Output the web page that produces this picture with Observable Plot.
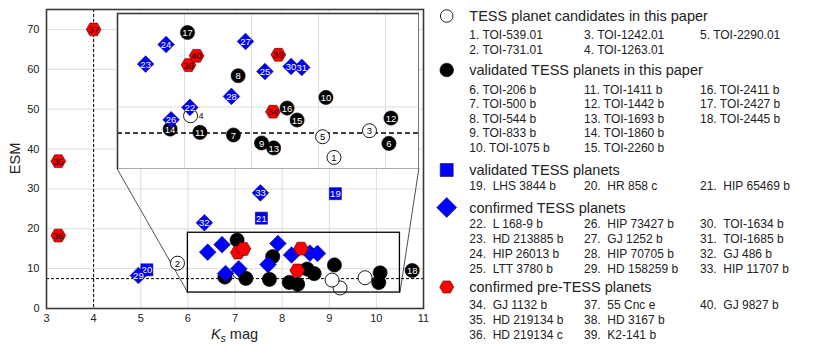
<!DOCTYPE html>
<html><head><meta charset="utf-8">
<script src="https://cdn.jsdelivr.net/npm/d3@7"></script>
<script src="https://cdn.jsdelivr.net/npm/@observablehq/plot@0.6"></script>
<style>
body{margin:0;background:#fff;}
#wrap{position:relative;width:830px;height:356px;overflow:hidden;background:#fff;}
#wrap svg{position:absolute;}
</style></head><body><div id="wrap"></div>
<script>
// ---------------- data ----------------
const categories = [
  "TESS planet candidates in this paper",
  "validated TESS planets in this paper",
  "validated TESS planets",
  "confirmed TESS planets",
  "confirmed pre-TESS planets"
];
const categoryFirstId = [1, 6, 19, 22, 34];
const planetNames = [
  "TOI-539.01","TOI-731.01","TOI-1242.01","TOI-1263.01","TOI-2290.01",
  "TOI-206 b","TOI-500 b","TOI-544 b","TOI-833 b","TOI-1075 b","TOI-1411 b","TOI-1442 b",
  "TOI-1693 b","TOI-1860 b","TOI-2260 b","TOI-2411 b","TOI-2427 b","TOI-2445 b",
  "LHS 3844 b","HR 858 c","HIP 65469 b",
  "L 168-9 b","HD 213885 b","HIP 26013 b","LTT 3780 b","HIP 73427 b","GJ 1252 b",
  "HIP 70705 b","HD 158259 b","TOI-1634 b","TOI-1685 b","GJ 486 b","HIP 11707 b",
  "GJ 1132 b","HD 219134 b","HD 219134 c","55 Cnc e","HD 3167 b","K2-141 b","GJ 9827 b"
];
const ksMag = [
  9.23, 5.78, 9.76, 7.09, 9.06,
  10.05, 7.73, 7.80, 8.15, 9.11, 7.23, 10.08, 8.33, 6.785, 8.68, 8.53, 7.045, 10.76,
  9.13, 5.13, 7.56,
  7.08, 6.42, 6.725, 8.20, 6.80, 7.91, 7.70, 4.95, 8.59, 8.75, 6.35, 7.54,
  8.32, 3.25, 3.25, 4.00, 7.06, 8.40, 7.18
];
const esmValues = [
  5.15, 11.37, 7.72, 9.16, 7.14,
  6.50, 7.31, 13.01, 6.54, 10.92, 7.56, 8.94, 6.06, 7.88, 8.75, 9.90, 17.17, 9.53,
  28.8, 9.7, 22.66,
  9.96, 14.13, 16.02, 13.42, 8.78, 16.31, 11.02, 8.28, 13.90, 13.81, 21.5, 29.0,
  9.55, 36.95, 18.3, 70.0, 14.04, 15.03, 14.93
];
const xTicks = [3, 4, 5, 6, 7, 8, 9, 10, 11];
const yTicks = [0, 10, 20, 30, 40, 50, 60, 70];
const ksLimit = 4;       // vertical dashed line
const esmLimit = 7.5;    // horizontal dashed line
const zoomX = [6, 10.5];
const zoomY = [4, 19];
const insetX = [4.5, 10.9];
const insetY = [35, 74.1];

// ---------------- table ----------------
const planets = planetNames.map((name, i) => {
  const id = i + 1;
  let g = 0;
  categoryFirstId.forEach((f, k) => { if (id >= f) g = k; });
  return {id, name, ks: ksMag[i], esm: esmValues[i], group: g};
});
const inZoom = d => d.ks >= zoomX[0] && d.ks <= zoomX[1] && d.esm >= zoomY[0] && d.esm <= zoomY[1];

// ---------------- styles ----------------
const FONT = '"Liberation Sans", Arial, Helvetica, sans-serif';
const hexFlat = {
  draw(ctx, size) {
    const r = Math.sqrt(size / Math.PI), h = r * Math.sqrt(3) / 2;
    ctx.moveTo(r, 0); ctx.lineTo(r / 2, h); ctx.lineTo(-r / 2, h);
    ctx.lineTo(-r, 0); ctx.lineTo(-r / 2, -h); ctx.lineTo(r / 2, -h); ctx.closePath();
  }
};
const groupStyle = [
  {symbol: "circle", r: 7, fill: "white", stroke: "black", strokeWidth: 0.9, text: "black"},
  {symbol: "circle", r: 7.1, fill: "black", stroke: "black", strokeWidth: 0.6, text: "white"},
  {symbol: "square", r: 6.8, fill: "#0000ff", stroke: "#10104a", strokeWidth: 0.6, text: "white"},
  {symbol: "diamond2", r: 7.5, fill: "#0000ff", stroke: "#10104a", strokeWidth: 0.6, text: "white"},
  {symbol: hexFlat, r: 7.4, fill: "#ff0000", stroke: "#4a0000", strokeWidth: 0.6, text: "black"}
];

// Points rendered group by group with labels after each group
function groupMarks(data, labelFilter) {
  const marks = [];
  groupStyle.forEach((s, g) => {
    const sub = data.filter(d => d.group === g);
    marks.push(Plot.dot(sub, {x: "ks", y: "esm", symbol: s.symbol,
      r: s.r, fill: s.fill, stroke: s.stroke, strokeWidth: s.strokeWidth}));
    const lab = sub.filter(labelFilter);
    const inside = lab.filter(d => d.id !== 4);
    const outside = lab.filter(d => d.id === 4);
    marks.push(Plot.text(inside, {x: "ks", y: "esm", text: d => String(d.id), fill: s.text,
      fontSize: 9.5, dy: 0.5}));
    if (outside.length) marks.push(Plot.text(outside, {x: "ks", y: "esm", text: d => String(d.id),
      fill: "black", fontSize: 8.5, dx: 10.5, dy: 1}));
  });
  return marks;
}

// ---------------- main plot ----------------
const main = Plot.plot({
  width: 430, height: 356,
  marginLeft: 46, marginRight: 7, marginTop: 9, marginBottom: 48,
  x: {domain: [3, 11]},
  y: {domain: [0, 75]},
  style: {fontFamily: FONT, fontSize: "11px", color: "#222", background: "white"},
  marks: [
    Plot.gridX(xTicks, {stroke: "#dcdcdc", strokeOpacity: 1}),
    Plot.gridY(yTicks, {stroke: "#dcdcdc", strokeOpacity: 1}),
    Plot.ruleX([ksLimit], {stroke: "black", strokeWidth: 1, strokeDasharray: "3,2"}),
    Plot.ruleY([esmLimit], {stroke: "black", strokeWidth: 1, strokeDasharray: "3,2"}),
    Plot.link([
      {x1: insetX[0], y1: insetY[0], x2: zoomX[0], y2: zoomY[0]},
      {x1: insetX[1], y1: insetY[0], x2: zoomX[1], y2: zoomY[0]}
    ], {x1: "x1", y1: "y1", x2: "x2", y2: "y2", stroke: "#222", strokeWidth: 0.8}),
    ...groupMarks(planets, d => !inZoom(d)),
    Plot.rect([{x1: zoomX[0], x2: zoomX[1], y1: zoomY[0], y2: zoomY[1]}],
      {x1: "x1", x2: "x2", y1: "y1", y2: "y2", fill: "none", stroke: "black", strokeWidth: 1.3}),
    Plot.frame({stroke: "#3a3a3a", strokeWidth: 1.6}),
    Plot.axisX(xTicks, {tickSize: 0, tickPadding: 6, label: null, fontSize: 11}),
    Plot.axisY(yTicks, {tickSize: 0, tickPadding: 7, label: null, fontSize: 11})
  ]
});
main.style.left = "0px"; main.style.top = "0px";
const ms = d3.select(main);
const kx = ms.append("text").attr("x", 234.5).attr("y", 339).attr("text-anchor", "middle")
  .attr("font-size", 14.5).attr("font-family", FONT).attr("fill", "#222");
kx.append("tspan").attr("font-style", "italic").text("K");
kx.append("tspan").attr("font-style", "italic").attr("font-size", 10.5).attr("dy", 3).text("s");
kx.append("tspan").attr("dy", -3).text(" mag");
ms.append("text").attr("transform", "translate(20,158.5) rotate(-90)").attr("text-anchor", "middle")
  .attr("font-size", 14.5).attr("font-family", FONT).attr("fill", "#222").text("ESM");
document.getElementById("wrap").appendChild(main);

// ---------------- inset ----------------
const sx = main.scale("x"), sy = main.scale("y");
const L = sx.apply(insetX[0]), R = sx.apply(insetX[1]);
const T = sy.apply(insetY[1]), B = sy.apply(insetY[0]);
const inset = Plot.plot({
  width: R - L + 2, height: B - T + 2, margin: 1,
  x: {domain: zoomX, axis: null},
  y: {domain: zoomY, axis: null},
  style: {fontFamily: FONT, fontSize: "9px", background: "white"},
  marks: [
    Plot.gridX(xTicks.filter(v => v > zoomX[0] && v < zoomX[1]), {stroke: "#dcdcdc", strokeOpacity: 1}),
    Plot.gridY(yTicks.filter(v => v > zoomY[0] && v < zoomY[1]), {stroke: "#dcdcdc", strokeOpacity: 1}),
    Plot.ruleY([esmLimit], {stroke: "black", strokeWidth: 1.5, strokeDasharray: "5,3"}),
    ...groupMarks(planets.filter(inZoom), () => true),
    Plot.frame({stroke: "#3a3a3a", strokeWidth: 1.6})
  ]
});
inset.style.left = (L - 1) + "px"; inset.style.top = (T - 1) + "px";
document.getElementById("wrap").appendChild(inset);

// ---------------- legend ----------------
const headerY = [16, 70, 170, 207.5, 287];
const firstRowY = [34.3, 89.3, 186, 223.3, 305];
const rowStep = [15.7, 14.5, 15, 15, 15];
const colX = [39.3, 154, 270];
const leg = d3.create("svg").attr("width", 400).attr("height", 356)
  .style("left", "430px").style("top", "0px").attr("font-family", FONT);
const legSym = [
  d3.symbol(d3.symbolCircle, Math.PI * 6.3 * 6.3),
  d3.symbol(d3.symbolCircle, Math.PI * 6.8 * 6.8),
  d3.symbol(d3.symbolSquare, 13 * 13),
  d3.symbol(d3.symbolDiamond2, Math.pow(10 / 0.62625, 2)),
  d3.symbol(hexFlat, Math.PI * 7 * 7)
];
categories.forEach((c, g) => {
  const s = groupStyle[g];
  leg.append("path").attr("d", legSym[g]()).attr("transform", `translate(16.7,${headerY[g]})`)
    .attr("fill", s.fill).attr("stroke", g === 0 ? "#222" : s.stroke).attr("stroke-width", g === 0 ? 1 : 0.6);
  leg.append("text").attr("x", colX[0]).attr("y", headerY[g]).attr("dy", "0.36em")
    .attr("font-size", 14.5).attr("fill", "#222").text(c);
  const items = planets.filter(d => d.group === g);
  const rows = Math.ceil(items.length / 3);
  items.forEach((d, k) => {
    const col = Math.floor(k / rows), row = k % rows;
    const sep = g >= 2 ? ".\u00A0 " : ". ";
    leg.append("text").attr("x", colX[col]).attr("y", firstRowY[g] + row * rowStep[g]).attr("dy", "0.36em")
      .attr("font-size", 12).attr("fill", "#222").text(d.id + sep + d.name);
  });
});
document.getElementById("wrap").appendChild(leg.node());
</script></body></html>
